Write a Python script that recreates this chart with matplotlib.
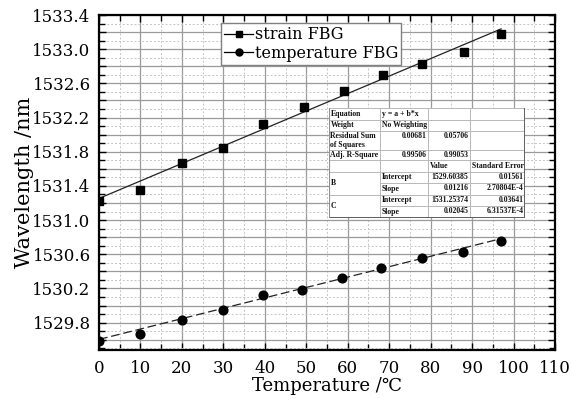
import numpy as np
import matplotlib.pyplot as plt
from matplotlib.lines import Line2D
from matplotlib.ticker import MultipleLocator, FuncFormatter

# data
temp_strain = [0, 10, 20, 30, 39.5, 49.5, 59, 68.5, 78, 88, 97]
wl_strain = [1531.22, 1531.35, 1531.67, 1531.84, 1532.12, 1532.32, 1532.51,
             1532.70, 1532.83, 1532.97, 1533.18]
temp_temp = [0, 10, 20, 30, 39.5, 49, 58.7, 68, 77.8, 87.8, 97]
wl_temp = [1529.59, 1529.67, 1529.835, 1529.945, 1530.12, 1530.185, 1530.32,
           1530.44, 1530.555, 1530.625, 1530.75]

# linear fits (from the inset table)
fit_strain = (1531.25374, 0.02045)
fit_temp = (1529.60385, 0.01216)
fit_x = [0, 97]

# inset table
table_rows = [
    ["Equation", "y = a + b*x", "", ""],
    ["Weight", "No Weighting", "", ""],
    ["Residual Sum\nof Squares", "0.00681", "0.05706", ""],
    ["Adj. R-Square", "0.99506", "0.99053", ""],
    ["", "", "Value", "Standard Error"],
    ["", "Intercept", "1529.60385", "0.01561"],
    ["", "Slope", "0.01216", "2.70804E-4"],
    ["", "Intercept", "1531.25374", "0.03641"],
    ["", "Slope", "0.02045", "6.31537E-4"],
]
group_labels = ["B", "C"]

plt.rcParams['font.family'] = ['DejaVu Serif', 'DejaVu Sans']

W, H = 573, 398
fig = plt.figure(figsize=(W / 100, H / 100), dpi=100)
ax = fig.add_axes([99 / W, 1 - 350 / H, 456 / W, 335 / H])

# grid
ax.xaxis.set_major_locator(MultipleLocator(10))
ax.xaxis.set_minor_locator(MultipleLocator(5))
ax.yaxis.set_major_locator(MultipleLocator(0.2))
ax.yaxis.set_minor_locator(MultipleLocator(0.1))
ax.grid(which='major', color='#9a9a9a', lw=0.9, ls='-')
ax.grid(which='minor', color='#c4c4c4', lw=0.7, ls=(0, (2, 2)))
ax.set_axisbelow(True)

def ylab(v, pos):
    k = int(round((v - 1529.8) / 0.2))
    if k % 2 == 0:
        return "%.1f" % v
    return ""
ax.yaxis.set_major_formatter(FuncFormatter(ylab))

xs = np.array(fit_x, dtype=float)
ax.plot(xs, fit_strain[0] + fit_strain[1] * xs, color='#222222', lw=0.9)
ax.plot(xs, fit_temp[0] + fit_temp[1] * xs, color='#222222', lw=0.9,
        ls=(0, (7, 3)))
ax.plot(temp_strain, wl_strain, 's', color='black', ms=6, ls='none')
ax.plot(temp_temp, wl_temp, 'o', color='black', ms=6.3, ls='none')

ax.set_xlim(0, 110)
ax.set_ylim(1529.48, 1533.4)
ax.tick_params(which='both', direction='in', top=True, right=True,
               labelsize=12, width=1)
ax.tick_params(which='major', length=5)
ax.tick_params(which='minor', length=4)
ax.tick_params(axis='y', pad=6)
ax.tick_params(axis='x', pad=7)
for s in ax.spines.values():
    s.set_linewidth(1.6)

ax.set_xlabel("Temperature /\u2103", fontsize=13, labelpad=0)
ax.set_ylabel("Wavelength /nm", fontsize=15, labelpad=-1)

handles = [
    Line2D([], [], color='black', lw=0.9, marker='s', ms=5),
    Line2D([], [], color='black', lw=0.9, marker='o', ms=5),
]
leg = ax.legend(handles, ["strain FBG", "temperature FBG"], loc='upper left',
                bbox_to_anchor=(0.2675, 0.976), borderaxespad=0,
                fancybox=False, framealpha=1, edgecolor='#808080',
                fontsize=11.5, handlelength=1.8, handletextpad=0.1,
                borderpad=0.2, labelspacing=0.1)
leg.get_frame().set_linewidth(1.0)

# inset table drawn in its own axes, in pixel units
tx0, ty0, tw, th = 329, 108, 196, 110
tab = fig.add_axes([tx0 / W, 1 - (ty0 + th) / H, tw / W, th / H])
tab.set_xlim(0, tw)
tab.set_ylim(th, 0)
tab.axis('off')
col_w = [51, 48, 42, 55]
row_h = [11.5, 11, 19, 10.5, 11.5, 11.5, 11.5, 11.5, 11]
cx = np.concatenate([[0], np.cumsum(col_w)])
ry = np.concatenate([[0], np.cumsum(row_h)])
tab.add_patch(plt.Rectangle((0, 0), tw, th, facecolor='white',
                            edgecolor='none'))
lc = '#b8b8b8'
for i, y in enumerate(ry):
    if i in (6, 8):
        tab.plot([cx[1], tw], [y, y], color=lc, lw=0.7)
    else:
        tab.plot([0, tw], [y, y], color=lc, lw=0.7)
for x in cx:
    tab.plot([x, x], [0, th], color=lc, lw=0.7)
tab.plot([tw, tw], [0, th], color='#606060', lw=1.4)
tab.plot([0, tw], [th, th], color='#606060', lw=1.4)
tab.plot([0, 0], [0, th], color='#909090', lw=0.8)

tfont = dict(fontsize=5.6, family=['Liberation Serif', 'DejaVu Serif'],
             fontweight='bold', color='#111111')
for r, row in enumerate(table_rows):
    yc = (ry[r] + ry[r + 1]) / 2
    for c, txt in enumerate(row):
        if not txt:
            continue
        num = txt[0].isdigit()
        if num:
            tab.text(cx[c + 1] - 1.5, ry[r] + 1.2, txt, ha='right', va='top',
                     **tfont)
        elif '\n' in txt:
            tab.text(cx[c] + 1.5, ry[r] + 1.2, txt, ha='left', va='top',
                     linespacing=1.2, **tfont)
        else:
            tab.text(cx[c] + 1.5, yc, txt, ha='left', va='center', **tfont)
for g, lab in enumerate(group_labels):
    tab.text(1.5, ry[6 + 2 * g], lab, ha='left', va='center', **tfont)

fig.savefig("out.png", dpi=100)
